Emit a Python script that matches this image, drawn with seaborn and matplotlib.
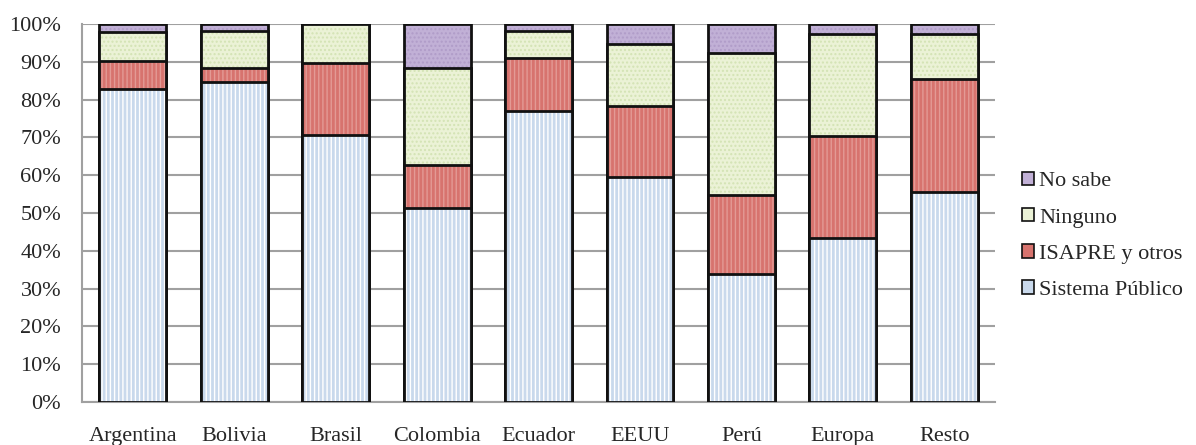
import seaborn as sns
import matplotlib.pyplot as plt
import numpy as np
from matplotlib.patches import Patch
from matplotlib.ticker import PercentFormatter

# values (percent of each group)
paises = ["Argentina", "Bolivia", "Brasil", "Colombia", "Ecuador",
          "EEUU", "Perú", "Europa", "Resto"]
sistema_publico = [82.9, 84.7, 70.7, 51.4, 77.0, 59.5, 33.9, 43.4, 55.6]
isapre_otros = [7.2, 3.7, 19.1, 11.3, 14.0, 18.9, 20.8, 27.0, 29.9]
ninguno = [7.7, 9.8, 10.2, 25.7, 7.1, 16.3, 37.7, 27.0, 11.9]
no_sabe = [2.2, 1.8, 0.0, 11.6, 1.9, 5.3, 7.6, 2.6, 2.6]

series = ["Sistema Público", "ISAPRE y otros", "Ninguno", "No sabe"]
colores = ["#c9d9ec", "#d7736e", "#ebf2d6", "#c1b0d6"]
tramas = [("||||", "#ffffff"), ("||||", "#e39a95"), ("....", "#d3e3b4"), ("....", "#b09cc8")]


def main():
    sns.set_style("white")
    plt.rcParams["font.family"] = ["Liberation Serif", "DejaVu Serif"]
    plt.rcParams["hatch.linewidth"] = 1.0

    valores = np.array([sistema_publico, isapre_otros, ninguno, no_sabe])
    acumulado = valores.cumsum(axis=0)

    fig = plt.figure(figsize=(11.96, 4.45), dpi=100)
    ax = fig.add_axes([0.0686, 0.0966, 0.7634, 0.8494])

    # draw cumulative heights from the top down so each segment overlaps the next
    for i in range(3, -1, -1):
        sns.barplot(x=paises, y=acumulado[i], color=colores[i], width=0.66,
                    saturation=1, linewidth=0, ax=ax, zorder=3)
        trama, c_trama = tramas[i]
        sns.barplot(x=paises, y=acumulado[i], color=c_trama, width=0.66,
                    fill=False, linewidth=0, hatch=trama, ax=ax, zorder=3)
        sns.barplot(x=paises, y=acumulado[i], color="#111111", width=0.66,
                    fill=False, linewidth=2.0, ax=ax, zorder=3)

    ax.set_ylim(0, 100)
    ax.set_xlim(-0.5, len(paises) - 0.5)
    ax.set_yticks(np.arange(0, 101, 10))
    ax.yaxis.set_major_formatter(PercentFormatter(decimals=0))
    ax.grid(axis="y", color="#a0a0a0", linewidth=1.5, zorder=0)
    ax.set_axisbelow(True)
    for s in ["top", "right"]:
        ax.spines[s].set_visible(False)
    for s in ["left", "bottom"]:
        ax.spines[s].set_color("#a0a0a0")
        ax.spines[s].set_linewidth(1.5)
    ax.tick_params(axis="x", length=0, pad=18, labelsize=16)
    ax.tick_params(axis="y", length=0, pad=15, labelsize=16)
    ax.set_xlabel("")
    ax.set_ylabel("")

    handles = [Patch(facecolor=colores[i], edgecolor="#111111", linewidth=1.2,
                     label=series[i]) for i in range(3, -1, -1)]
    fig.legend(handles=handles, loc="center left", bbox_to_anchor=(0.838, 0.47),
               frameon=False, fontsize=16, handlelength=0.55, handleheight=0.55,
               handletextpad=0.2, labelspacing=0.75)

    fig.savefig("out.png", dpi=100)


if __name__ == "__main__":
    main()
